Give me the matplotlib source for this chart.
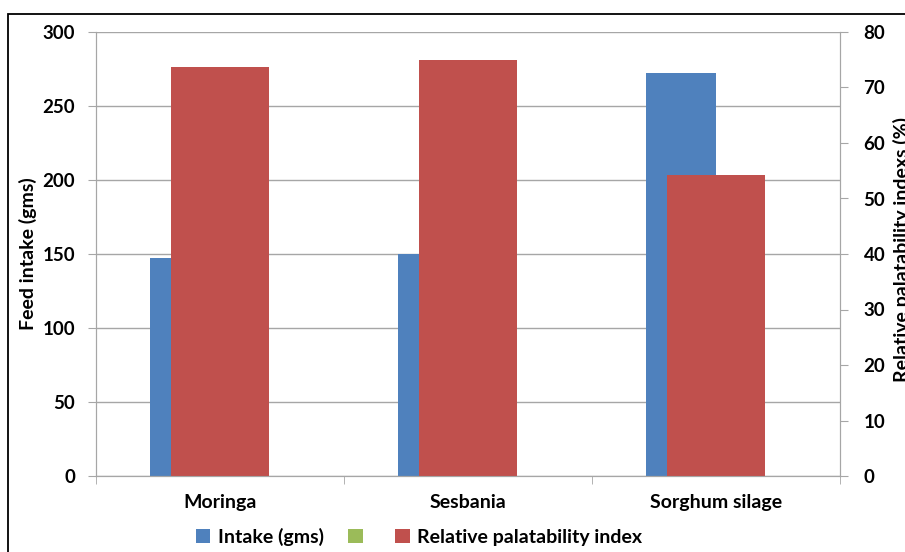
import matplotlib.pyplot as plt
from matplotlib.patches import Rectangle
import numpy as np

plt.rcParams['font.family'] = ['Lato', 'DejaVu Sans']
plt.rcParams['font.weight'] = 'bold'

categories = ['Moringa', 'Sesbania', 'Sorghum silage']
intake = [147, 150, 272]          # Feed intake (gms), left axis
empty_series = [0, 0, 0]          # green legend entry, no visible bars
palatability = [73.7, 74.9, 54.3]  # Relative palatability index (%), right axis

blue = '#4F81BD'
green = '#9BBB59'
red = '#C0504D'
grid_c = '#A6A6A6'

fig = plt.figure(figsize=(9.05, 5.52), dpi=100)
ax = fig.add_axes([96 / 905, 1 - 476 / 552, 744 / 905, 444 / 552])
ax2 = ax.twinx()

x = np.arange(len(categories))
w = 0.282
b1 = ax.bar(x - w / 2, intake, w, color=blue, label='Intake (gms)', zorder=2)
b2 = ax.bar(x + w / 2, empty_series, w, color=green, label=' ', zorder=2)
b3 = ax2.bar(x, palatability, 0.395, color=red, label='Relative palatability index', zorder=2)

ax.set_xlim(-0.5, 2.5)
ax.set_ylim(0, 300)
ax2.set_ylim(0, 80)
ax.set_yticks(range(0, 301, 50))
ax2.set_yticks(range(0, 81, 10))

# horizontal gridlines belong to the left axis
ax.yaxis.grid(True, color=grid_c, linewidth=1)
ax.set_axisbelow(True)

# category labels centred, tick marks on the boundaries
ax.set_xticks(x)
ax.set_xticklabels(categories, fontsize=14, fontweight='bold')
ax.set_xticks([-0.5, 0.5, 1.5, 2.5], minor=True)
ax.tick_params(axis='x', which='major', length=0, pad=13)
ax.tick_params(axis='x', which='minor', length=6, color=grid_c, direction='out')

ax.tick_params(axis='y', length=6, color=grid_c, labelsize=13.5, pad=9)
ax2.tick_params(axis='y', length=6, color=grid_c, labelsize=13.5, pad=11)
for lab in ax.get_yticklabels() + ax2.get_yticklabels():
    lab.set_fontweight('bold')

for a in (ax, ax2):
    a.spines['top'].set_visible(False)
    a.spines['left'].set_color(grid_c)
    a.spines['right'].set_color(grid_c)
    a.spines['bottom'].set_color(grid_c)

ax.set_ylabel('Feed intake (gms)', fontsize=14, fontweight='bold')
ax.yaxis.set_label_coords(-0.079, 0.5)
# the original chart has this label running off the right edge
ax2.set_ylabel('Relative palatability indexs (%)', fontsize=14, fontweight='bold')
ax2.yaxis.set_label_coords(1.071, 0.51)

fig.legend(handles=[b1, b2, b3], labels=['Intake (gms)', '', 'Relative palatability index'],
           loc='center', bbox_to_anchor=(419 / 905, 1 - 537 / 552), ncol=3, frameon=False,
           handlelength=0.75, handleheight=0.75, columnspacing=1.25,
           handletextpad=0.4, prop={'weight': 'bold', 'size': 14})

# outer chart border (cut off on right and bottom in the original)
fig.patches.append(Rectangle((8 / 905, -0.1), 1.2, 1 - 14 / 552 + 0.1, transform=fig.transFigure,
                             fill=False, edgecolor='black', linewidth=1.3))

fig.savefig('out.png', dpi=100)
